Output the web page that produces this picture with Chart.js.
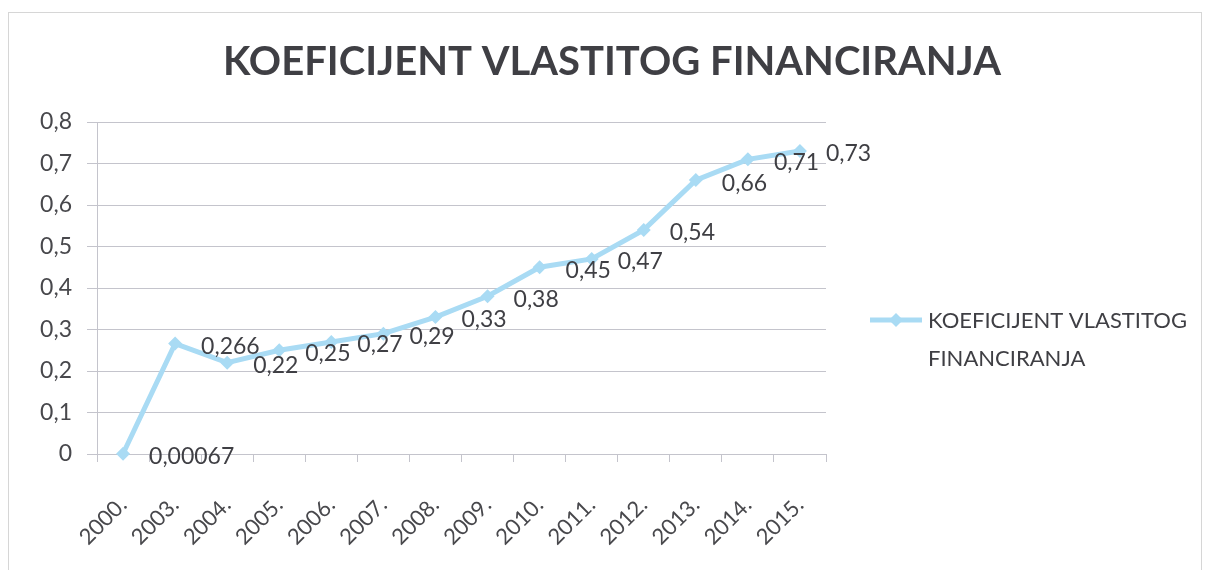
<!DOCTYPE html>
<html>
<head>
<meta charset="utf-8">
<script src="https://cdn.jsdelivr.net/npm/chart.js@4/dist/chart.umd.min.js"></script>
<style>
  html, body { margin: 0; padding: 0; background: #ffffff; }
  #wrap { position: relative; width: 1209px; height: 570px; overflow: hidden; }
  #frame { position: absolute; left: 8px; top: 12px; width: 1194px; height: 570px; border: 1px solid #d6d6d6; box-sizing: border-box; }
  #c { position: absolute; left: 0; top: 0; }
</style>
</head>
<body>
<div id="wrap">
  <div id="frame"></div>
  <canvas id="c" width="1209" height="570"></canvas>
</div>
<script>
const titleText = 'KOEFICIJENT VLASTITOG FINANCIRANJA';
const seriesName = ['KOEFICIJENT VLASTITOG', 'FINANCIRANJA'];
const years = ['2000.', '2003.', '2004.', '2005.', '2006.', '2007.', '2008.', '2009.', '2010.', '2011.', '2012.', '2013.', '2014.', '2015.'];
const values = [0.00067, 0.266, 0.22, 0.25, 0.27, 0.29, 0.33, 0.38, 0.45, 0.47, 0.54, 0.66, 0.71, 0.73];
const yTicks = [0, 0.1, 0.2, 0.3, 0.4, 0.5, 0.6, 0.7, 0.8];

const lineColor = '#a9dbf4';
const textColor = '#3f3f44';
const tickColor = '#48484c';
const gridColor = '#c4c4cc';
const fontFamily = 'Lato, "Open Sans", sans-serif';

const fmt = v => String(v).replace('.', ',');

const dataLabels = {
  id: 'dataLabels',
  afterDatasetsDraw(chart) {
    const ctx = chart.ctx;
    const meta = chart.getDatasetMeta(0);
    ctx.save();
    ctx.font = '23px ' + fontFamily;
    ctx.fillStyle = textColor;
    ctx.textAlign = 'left';
    ctx.textBaseline = 'middle';
    meta.data.forEach((pt, i) => {
      ctx.fillText(fmt(values[i]), pt.x + 26, pt.y + 3);
    });
    ctx.restore();
  }
};

const sideLegend = {
  id: 'sideLegend',
  afterDraw(chart) {
    const ctx = chart.ctx;
    const a = chart.chartArea;
    const x0 = a.right + 44;
    const y0 = a.top + 198;
    ctx.save();
    ctx.strokeStyle = lineColor;
    ctx.lineWidth = 5;
    ctx.beginPath();
    ctx.moveTo(x0, y0);
    ctx.lineTo(x0 + 52, y0);
    ctx.stroke();
    ctx.fillStyle = lineColor;
    ctx.beginPath();
    const cx = x0 + 26, r = 7;
    ctx.moveTo(cx, y0 - r);
    ctx.lineTo(cx + r, y0);
    ctx.lineTo(cx, y0 + r);
    ctx.lineTo(cx - r, y0);
    ctx.closePath();
    ctx.fill();
    ctx.font = '22px ' + fontFamily;
    ctx.fillStyle = textColor;
    ctx.textAlign = 'left';
    ctx.textBaseline = 'middle';
    ctx.fillText(seriesName[0], x0 + 58, y0 + 1);
    ctx.fillText(seriesName[1], x0 + 58, y0 + 39);
    ctx.restore();
  }
};

new Chart(document.getElementById('c'), {
  type: 'line',
  data: {
    labels: years,
    datasets: [{
      label: seriesName.join(' '),
      data: values,
      borderColor: lineColor,
      backgroundColor: lineColor,
      borderWidth: 5,
      tension: 0,
      pointStyle: 'rectRot',
      pointRadius: 7,
      pointBorderWidth: 0,
      pointBackgroundColor: lineColor,
      clip: false
    }]
  },
  options: {
    responsive: false,
    animation: false,
    events: [],
    layout: { padding: { left: 15, right: 0, top: 10, bottom: 10 } },
    plugins: {
      legend: { display: false },
      tooltip: { enabled: false },
      title: {
        display: true,
        text: titleText,
        color: textColor,
        font: { family: fontFamily, size: 40, weight: 'bold' },
        padding: { top: 28, bottom: 36 }
      }
    },
    scales: {
      x: {
        type: 'category',
        offset: true,
        grid: {
          offset: true,
          drawOnChartArea: false,
          drawTicks: true,
          tickLength: 8,
          color: gridColor
        },
        border: { display: true, color: gridColor, width: 1 },
        ticks: {
          color: tickColor,
          font: { family: fontFamily, size: 22 },
          maxRotation: 45,
          minRotation: 45,
          autoSkip: false,
          padding: 30
        },
        afterFit(s) { s.height = 106; }
      },
      y: {
        min: 0,
        max: 0.8,
        afterBuildTicks(s) { s.ticks = yTicks.map(v => ({ value: v })); },
        grid: { color: gridColor, tickLength: 10, drawTicks: true },
        border: { display: true, color: gridColor, width: 1 },
        ticks: {
          color: tickColor,
          font: { family: fontFamily, size: 23 },
          padding: 15,
          callback: v => (v === 0 ? '0' : v.toFixed(1).replace('.', ','))
        },
        afterFit(s) { s.width = 82; }
      },
      yRight: {
        type: 'linear',
        position: 'right',
        display: true,
        grid: { display: false, drawTicks: false },
        border: { display: false },
        ticks: { display: false },
        afterFit(s) { s.width = 383; }
      }
    }
  },
  plugins: [dataLabels, sideLegend]
});
</script>
</body>
</html>
